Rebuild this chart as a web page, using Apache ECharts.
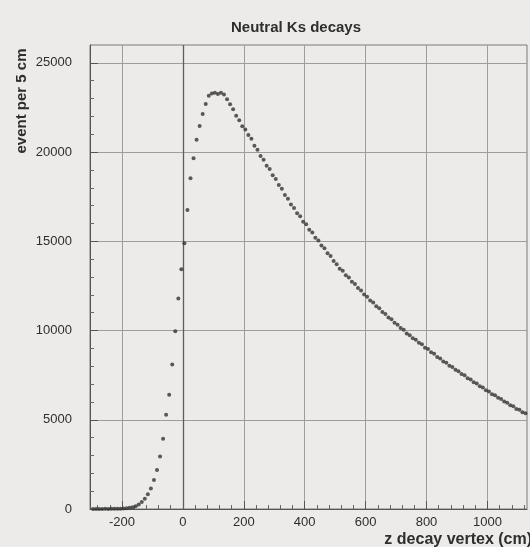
<!DOCTYPE html>
<html>
<head>
<meta charset="utf-8">
<script src="https://cdn.jsdelivr.net/npm/echarts@6/dist/echarts.min.js"></script>
<style>
  html, body { margin: 0; padding: 0; background: #ecebe9; }
  #chart { width: 530px; height: 547px; }
</style>
</head>
<body>
<div id="chart"></div>
<script>
// Histogram of Ks decay vertex positions along z, 10 cm bins starting at -300 cm
const binStart = -295;
const binWidth = 10;
const counts = [
  5, 5, 6, 5, 8, 7, 10, 12, 15, 20,
  28, 42, 65, 100, 160, 250, 390, 580, 830, 1150,
  1630, 2190, 2940, 3930, 5280, 6400, 8090, 9960, 11800, 13430,
  14890, 16760, 18540, 19660, 20690, 21460, 22130, 22700, 23150, 23280,
  23320, 23250, 23330, 23220, 22960, 22680, 22400, 22030, 21790, 21450,
  21260, 20950, 20740, 20350, 20130, 19780, 19570, 19240, 19050, 18700,
  18490, 18150, 17940, 17600, 17390, 17060, 16870, 16570, 16400, 16100,
  15950, 15650, 15490, 15200, 15050, 14760, 14610, 14330, 14180, 13900,
  13710, 13460, 13350, 13100, 12970, 12730, 12610, 12380, 12250, 12020,
  11900, 11690, 11570, 11360, 11250, 11040, 10930, 10730, 10630, 10430,
  10330, 10140, 10050, 9830, 9740, 9570, 9480, 9310, 9230, 9040,
  8960, 8780, 8700, 8520, 8440, 8270, 8200, 8030, 7960, 7800,
  7720, 7560, 7490, 7320, 7260, 7100, 7030, 6880, 6810, 6660,
  6590, 6430, 6380, 6230, 6160, 6020, 5960, 5810, 5760, 5610,
  5560, 5420, 5360
];

const xTicks = [-200, 0, 200, 400, 600, 800, 1000];
const xMinorTicks = [-280, -240, -160, -120, -80, -40, 40, 80, 120, 160, 240, 280, 320, 360,
  440, 480, 520, 560, 640, 680, 720, 760, 840, 880, 920, 960, 1040, 1080, 1120];
const yTicks = [0, 5000, 10000, 15000, 20000, 25000];
const yMinorTicks = [1000, 2000, 3000, 4000, 6000, 7000, 8000, 9000, 11000, 12000, 13000, 14000,
  16000, 17000, 18000, 19000, 21000, 22000, 23000, 24000];

const titleText = 'Neutral Ks decays';
const xName = 'z decay vertex (cm)';
const yName = 'event per 5 cm';

const points = counts.map((v, i) => [binStart + i * binWidth, v]);

const chart = echarts.init(document.getElementById('chart'), null, { renderer: 'canvas' });

const textColor = '#2e2e2e';
const gridColor = '#9d9d9d';
const labelFont = { fontFamily: 'Liberation Sans', fontSize: 13, color: textColor };

chart.setOption({
  backgroundColor: '#ecebe9',
  animation: false,
  title: {
    text: titleText,
    left: 291,
    top: 15,
    textAlign: 'center',
    textStyle: { fontFamily: 'Liberation Sans', fontWeight: 'bold', fontSize: 15, color: textColor }
  },
  grid: {
    left: 90, right: 3, top: 45, bottom: 38,
    show: true, borderColor: '#7a7a7a', borderWidth: 1, backgroundColor: 'transparent'
  },
  xAxis: [{
    type: 'value',
    min: -305, max: 1130,
    axisLine: { show: true, onZero: false, lineStyle: { color: '#555', width: 1 } },
    axisTick: { show: true, inside: true, length: 8, customValues: xTicks, lineStyle: { color: '#555' } },
    axisLabel: Object.assign({ customValues: xTicks, margin: 7, formatter: v => String(v) }, labelFont),
    splitLine: { show: true, lineStyle: { color: gridColor, width: 1 } }
  }, {
    type: 'value',
    min: -305, max: 1130,
    position: 'bottom',
    axisLine: { show: false, onZero: false },
    axisTick: { show: true, inside: true, length: 4, customValues: xMinorTicks, lineStyle: { color: '#666' } },
    axisLabel: { show: false },
    splitLine: { show: false }
  }],
  yAxis: [{
    type: 'value',
    min: 0, max: 26000,
    axisLine: { show: true, onZero: false, lineStyle: { color: '#555', width: 1 } },
    axisTick: { show: true, inside: true, length: 8, customValues: yTicks, lineStyle: { color: '#555' } },
    axisLabel: Object.assign({ customValues: yTicks, margin: 18, formatter: v => String(v) }, labelFont),
    splitLine: { show: true, lineStyle: { color: gridColor, width: 1 } }
  }, {
    type: 'value',
    min: 0, max: 26000,
    position: 'left',
    axisLine: { show: false, onZero: false },
    axisTick: { show: true, inside: true, length: 4, customValues: yMinorTicks, lineStyle: { color: '#666' } },
    axisLabel: { show: false },
    splitLine: { show: false }
  }],
  graphic: [{
    type: 'text',
    x: 22, y: 101,
    rotation: Math.PI / 2,
    style: {
      text: yName,
      fill: textColor,
      font: 'bold 15px "Liberation Sans"',
      align: 'center', verticalAlign: 'middle',
      textAlign: 'center', textVerticalAlign: 'middle'
    }
  }, {
    type: 'text',
    right: -2, top: 532,
    style: {
      text: xName,
      fill: textColor,
      font: 'bold 16px "Liberation Sans"'
    }
  }],
  series: [{
    type: 'scatter',
    data: points,
    symbol: 'circle',
    symbolSize: 4,
    itemStyle: { color: '#333' },
    markLine: {
      silent: true,
      symbol: 'none',
      label: { show: false },
      lineStyle: { color: '#5e5e5e', type: 'solid', width: 1.3 },
      data: [{ xAxis: 0 }]
    },
    z: 5
  }]
});
</script>
</body>
</html>
